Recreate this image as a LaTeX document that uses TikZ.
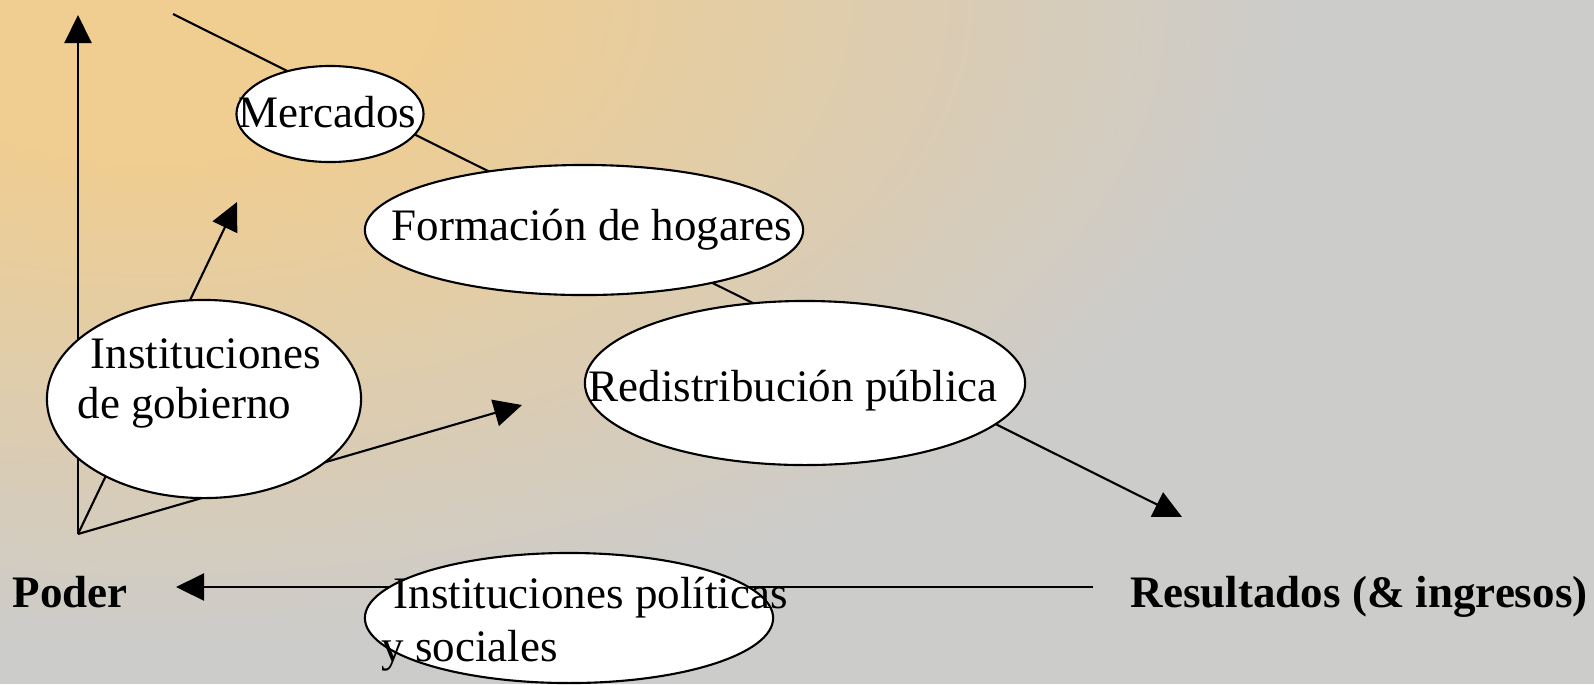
\documentclass[tikz,border=0pt]{standalone}
\usepackage{fontspec}
\setmainfont{Liberation Serif}
\usetikzlibrary{arrows.meta,shapes.geometric}
\definecolor{sand}{HTML}{F0CD90}
\definecolor{ash}{HTML}{CCCCCB}
\pgfdeclareradialshading{sandfade}{\pgfpoint{0bp}{0bp}}{color(0bp)=(sand); color(6bp)=(sand); color(25bp)=(ash); color(50bp)=(ash)}

\begin{document}
\begin{tikzpicture}[x=0.01cm,y=-0.01cm,
		bubble/.style={ellipse,draw,fill=white,line width=0.6pt,inner sep=0pt},
		txt/.style={anchor=base west,inner sep=0pt,font=\fontsize{12.8}{15}\selectfont},
		bold/.style={txt,font=\fontsize{12.8}{15}\selectfont\bfseries},
		axis/.style={line width=0.6pt,-{Triangle[length=0.28cm,width=0.27cm]}}]
		\useasboundingbox (0,0) rectangle (1594,684);
		\fill[ash] (0,0) rectangle (1594,684);
		\begin{scope}
			\clip (0,0) rectangle (1594,684);
			\shade[shading=sandfade] (150,0) ellipse [x radius=1150, y radius=650];
		\end{scope}
		\coordinate (origin) at (78,534);
		\coordinate (uptip) at (78,15);
		\coordinate (slanttip) at (237,202);
		\coordinate (righttip) at (522,405);
		\coordinate (flowstart) at (173,14);
		\coordinate (flowtip) at (1182,517);
		\coordinate (backstart) at (1093,587);
		\coordinate (backtip) at (176,587);
		\draw[axis] (origin) -- (uptip);
		\draw[axis] (origin) -- (slanttip);
		\draw[axis] (origin) -- (righttip);
		\draw[axis] (flowstart) -- (flowtip);
		\draw[axis] (backstart) -- (backtip);
		\node[bubble,minimum width=1.87cm,minimum height=0.96cm] (mercados) at (330,114) {};
		\node[bubble,minimum width=4.38cm,minimum height=1.3cm] (hogares) at (584,230) {};
		\node[bubble,minimum width=4.4cm,minimum height=1.64cm] (redistribucion) at (805,383) {};
		\node[bubble,minimum width=3.14cm,minimum height=1.98cm] (gobierno) at (204,399) {};
		\node[bubble,minimum width=4.08cm,minimum height=1.3cm] (politicas) at (569,618) {};
		\node[txt] (tmercados) at (238,127) {Mercados};
		\node[txt] (thogares) at (391,240) {Formación de hogares};
		\node[txt] (tredistribucion) at (588,401) {Redistribución pública};
		\node[txt] (tgobierno) at (90,368) {Instituciones};
		\node[txt] (tgobierno2) at (77,418) {de gobierno};
		\node[txt] (tpoliticas) at (393,608) {Instituciones políticas};
		\node[txt] (tpoliticas2) at (381,661) {y sociales};
		\node[bold] (poder) at (12,607) {Poder};
		\node[bold] (resultados) at (1130,607) {Resultados (\& ingresos)};
	\end{tikzpicture}
\end{document}
